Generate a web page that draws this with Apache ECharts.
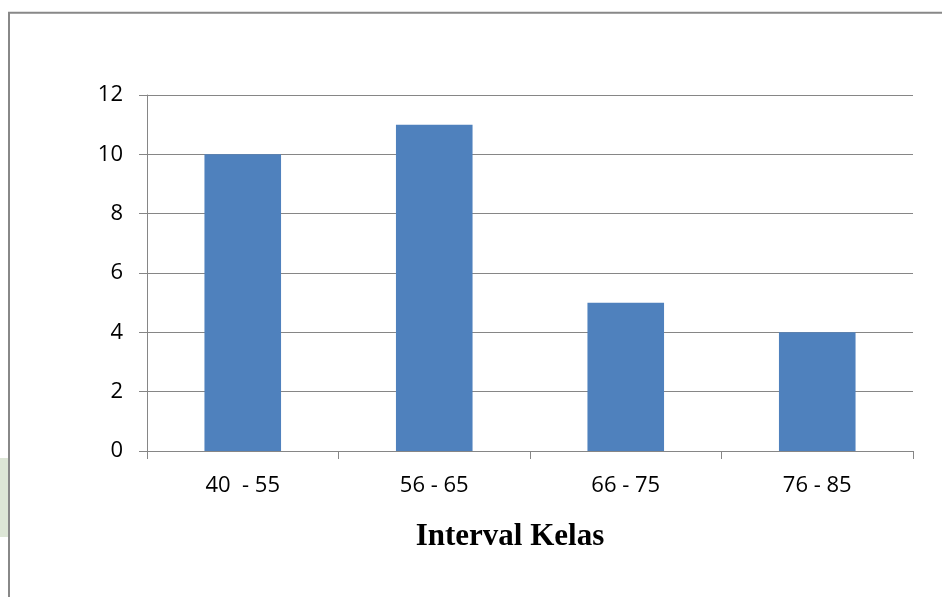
<!DOCTYPE html>
<html>
<head>
<meta charset="utf-8">
<script src="https://cdn.jsdelivr.net/npm/echarts@6/dist/echarts.min.js"></script>
<style>
  html, body { margin: 0; padding: 0; background: #ffffff; }
  #chart { width: 942px; height: 597px; }
</style>
</head>
<body>
<div id="chart"></div>
<script>
// Frequency of scores per class interval
const categories = ['40  - 55', '56 - 65', '66 - 75', '76 - 85'];
const frequencies = [10, 11, 5, 4];
const yTicks = { min: 0, max: 12, interval: 2 };
const xAxisTitle = 'Interval Kelas';

const axisGray = '#868686';
const chart = echarts.init(document.getElementById('chart'), null, { renderer: 'canvas' });

chart.setOption({
  animation: false,
  backgroundColor: '#ffffff',
  grid: { left: 147, top: 95, right: 29, bottom: 146, containLabel: false },
  graphic: [
    // faint green patch on the left edge
    { type: 'rect', shape: { x: 0, y: 458, width: 8, height: 79 },
      style: { fill: '#dde6d6' }, silent: true, z: -1 },
    // outer chart border
    { type: 'rect', shape: { x: 9, y: 12.7, width: 1200, height: 1000 },
      style: { fill: null, stroke: '#888888', lineWidth: 2 }, silent: true },
    { type: 'text', x: 510, y: 537,
      style: { text: xAxisTitle, fill: '#000000', align: 'center', verticalAlign: 'middle',
        font: 'bold 31px "Liberation Serif", "DejaVu Serif", serif' },
      silent: true }
  ],
  xAxis: {
    type: 'category',
    data: categories,
    boundaryGap: true,
    axisLine: { lineStyle: { color: axisGray, width: 1 } },
    axisTick: { show: true, alignWithLabel: false, length: 8, lineStyle: { color: axisGray } },
    axisLabel: { color: '#000000', fontFamily: '"Open Sans", sans-serif', fontSize: 22, margin: 24 },
    splitLine: { show: false }
  },
  yAxis: {
    type: 'value',
    min: yTicks.min,
    max: yTicks.max,
    interval: yTicks.interval,
    axisLine: { show: true, lineStyle: { color: axisGray, width: 1 } },
    axisTick: { show: true, length: 8, lineStyle: { color: axisGray } },
    axisLabel: { color: '#000000', fontFamily: '"Open Sans", sans-serif', fontSize: 22, margin: 24 },
    splitLine: { show: true, lineStyle: { color: axisGray, width: 1 } }
  },
  series: [{
    type: 'bar',
    data: frequencies,
    barWidth: '40%',
    itemStyle: { color: '#4F81BD' }
  }]
});
</script>
</body>
</html>
